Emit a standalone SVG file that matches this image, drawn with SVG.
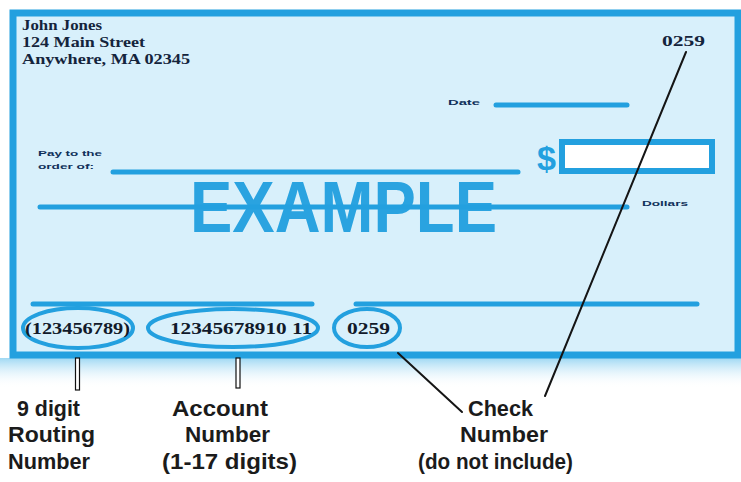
<svg xmlns="http://www.w3.org/2000/svg" width="741" height="482" viewBox="0 0 741 482">
<defs>
<linearGradient id="shade" x1="0" y1="0" x2="0" y2="1">
<stop offset="0" stop-color="#9fd8f3"/>
<stop offset="1" stop-color="#ffffff" stop-opacity="0"/>
</linearGradient>
<style>
.ln{stroke:#23a0df;stroke-width:5;stroke-linecap:round;fill:none}
.ell{fill:none;stroke:#23a0df;stroke-width:4}
.ink{font-family:"Liberation Serif",serif;font-weight:bold;fill:#14243c}
.micr{font-family:"Liberation Serif",serif;font-weight:bold;font-size:16px;fill:#111a2a}
.small{font-family:"Liberation Sans",sans-serif;font-weight:bold;font-size:8px;fill:#10305a}
.lab{font-family:"Liberation Sans",sans-serif;font-weight:bold;font-size:22px;fill:#1b1b1b}
.bar{fill:#ffffff;stroke:#111;stroke-width:1.2}
.lead{stroke:#151515;stroke-width:2;fill:none;stroke-linecap:round}
</style>
</defs>
<rect width="741" height="482" fill="#ffffff"/>
<rect x="0" y="358" width="741" height="30" fill="url(#shade)"/>
<g id="check">
<rect x="13" y="13" width="725" height="342" fill="#d8f0fb" stroke="#23a0df" stroke-width="7"/>
<text class="ink" x="22" y="30" font-size="15" textLength="80" lengthAdjust="spacingAndGlyphs">John Jones</text>
<text class="ink" x="22" y="47" font-size="15" textLength="123" lengthAdjust="spacingAndGlyphs">124 Main Street</text>
<text class="ink" x="22" y="64" font-size="15" textLength="168" lengthAdjust="spacingAndGlyphs">Anywhere, MA 02345</text>
<text class="ink" x="662" y="46" font-size="15" textLength="43" lengthAdjust="spacingAndGlyphs">0259</text>
<text class="small" x="448" y="105" textLength="32" lengthAdjust="spacingAndGlyphs">Date</text>
<line class="ln" x1="496" y1="105" x2="627" y2="105"/>
<text class="small" x="38" y="156" textLength="64" lengthAdjust="spacingAndGlyphs">Pay to the</text>
<text class="small" x="38" y="169" textLength="56" lengthAdjust="spacingAndGlyphs">order of:</text>
<line class="ln" x1="113" y1="172" x2="518" y2="172"/>
<text x="537" y="170" font-family="Liberation Sans,sans-serif" font-weight="bold" font-size="34" fill="#23a0df" textLength="19" lengthAdjust="spacingAndGlyphs">$</text>
<rect x="562" y="142" width="150" height="29" fill="#ffffff" stroke="#23a0df" stroke-width="6"/>
<text x="190" y="232" font-family="Liberation Sans,sans-serif" font-weight="bold" font-size="72" fill="#2aa3e0" textLength="307" lengthAdjust="spacingAndGlyphs">EXAMPLE</text>
<line class="ln" x1="40" y1="207" x2="627" y2="207"/>
<text class="small" x="642" y="206" textLength="46" lengthAdjust="spacingAndGlyphs" fill="#1a5f9a">Dollars</text>
<line class="ln" x1="33" y1="304" x2="312" y2="304"/>
<line class="ln" x1="356" y1="304" x2="697" y2="304"/>
</g>
<g id="routing">
<ellipse class="ell" cx="78" cy="328" rx="55" ry="20"/>
<text class="micr" x="25" y="334" textLength="105" lengthAdjust="spacingAndGlyphs">(123456789)</text>
</g>
<g id="account">
<ellipse class="ell" cx="233" cy="328" rx="85" ry="19"/>
<text class="micr" x="170" y="334" textLength="142" lengthAdjust="spacingAndGlyphs">12345678910 11</text>
</g>
<g id="checknum">
<ellipse class="ell" cx="367" cy="328" rx="33" ry="19"/>
<text class="micr" x="347" y="334" textLength="43" lengthAdjust="spacingAndGlyphs">0259</text>
</g>
<g id="connectors">
<rect class="bar" x="75.5" y="358" width="4" height="32"/>
<rect class="bar" x="236" y="358" width="4" height="30"/>
<line class="lead" x1="398" y1="353" x2="462" y2="412"/>
<line class="lead" x1="686" y1="52" x2="545" y2="396"/>
</g>
<g id="labels">
<text class="lab" x="17" y="416" textLength="63" lengthAdjust="spacingAndGlyphs">9 digit</text>
<text class="lab" x="8" y="442" textLength="87" lengthAdjust="spacingAndGlyphs">Routing</text>
<text class="lab" x="8" y="469" textLength="82" lengthAdjust="spacingAndGlyphs">Number</text>
<text class="lab" x="172" y="416" textLength="96" lengthAdjust="spacingAndGlyphs">Account</text>
<text class="lab" x="185" y="442" textLength="85" lengthAdjust="spacingAndGlyphs">Number</text>
<text class="lab" x="162" y="469" textLength="135" lengthAdjust="spacingAndGlyphs">(1-17 digits)</text>
<text class="lab" x="468" y="416" textLength="65" lengthAdjust="spacingAndGlyphs">Check</text>
<text class="lab" x="460" y="442" textLength="88" lengthAdjust="spacingAndGlyphs">Number</text>
<text class="lab" x="418" y="469" textLength="155" lengthAdjust="spacingAndGlyphs">(do not include)</text>
</g>
</svg>
